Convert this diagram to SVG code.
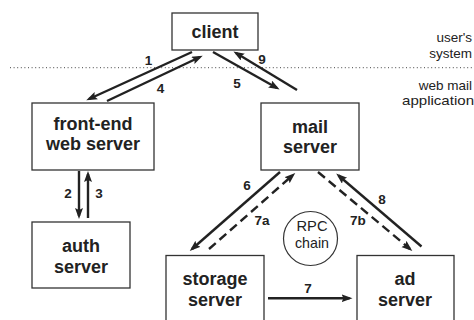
<svg xmlns="http://www.w3.org/2000/svg" width="474" height="320" viewBox="0 0 474 320">
<style>
.box{fill:#fff;stroke:#333;stroke-width:1.3}
.nt{font-family:"Liberation Sans",Arial,sans-serif;font-weight:bold;font-size:18px;fill:#222;text-anchor:middle}
.lb{font-family:"Liberation Sans",Arial,sans-serif;font-weight:bold;font-size:13.5px;fill:#222;text-anchor:middle}
.rt{font-family:"Liberation Sans",Arial,sans-serif;font-size:13.5px;fill:#222;text-anchor:end}
.rp{font-family:"Liberation Sans",Arial,sans-serif;font-size:15px;fill:#222;text-anchor:middle}
.ar{stroke:#222;stroke-width:2.4;fill:none;marker-end:url(#ah)}
.da{stroke-dasharray:9 5}
</style>
<defs>
<marker id="ah" markerUnits="userSpaceOnUse" markerWidth="12" markerHeight="10" refX="8" refY="4" orient="auto">
<path d="M0,0 L11,4 L0,8 L2,4 z" fill="#222"/>
</marker>
</defs>
<line x1="10" y1="67.7" x2="474" y2="67.7" stroke="#444" stroke-width="1" stroke-dasharray="1 2.6"/>
<text class="rt" x="472" y="42">user's</text>
<text class="rt" x="472" y="57.5">system</text>
<text class="rt" x="472" y="89.5">web mail</text>
<text class="rt" x="474" y="105" textLength="72" lengthAdjust="spacingAndGlyphs">application</text>
<g id="client"><rect class="box" x="172" y="13" width="86" height="37"/><text class="nt" x="215" y="38">client</text></g>
<g id="frontend"><rect class="box" x="32" y="103" width="122" height="67"/><text class="nt" x="93" y="130">front-end</text><text class="nt" x="93" y="150">web server</text></g>
<g id="mail"><rect class="box" x="261" y="103" width="98" height="67"/><text class="nt" x="310" y="133">mail</text><text class="nt" x="310" y="153">server</text></g>
<g id="auth"><rect class="box" x="32" y="222" width="98" height="66"/><text class="nt" x="81" y="252">auth</text><text class="nt" x="81" y="273">server</text></g>
<g id="storage"><rect class="box" x="166" y="255.5" width="98" height="80"/><text class="nt" x="215" y="285">storage</text><text class="nt" x="215" y="306">server</text></g>
<g id="ad"><rect class="box" x="357" y="255.5" width="97" height="80"/><text class="nt" x="405" y="285">ad</text><text class="nt" x="405" y="306">server</text></g>
<g id="rpc"><circle cx="310.5" cy="238.5" r="27" fill="none" stroke="#333" stroke-width="1.2"/>
<text class="rp" x="312" y="231" textLength="31" lengthAdjust="spacingAndGlyphs">RPC</text>
<text class="rp" x="312" y="248" textLength="34" lengthAdjust="spacingAndGlyphs">chain</text></g>
<g id="connectors">
<line class="ar" x1="192" y1="52" x2="89" y2="99"/>
<line class="ar" x1="107" y1="101" x2="200" y2="57"/>
<line class="ar" x1="213" y1="52" x2="277" y2="88"/>
<line class="ar" x1="297" y1="90" x2="236" y2="53"/>
<line class="ar" x1="79" y1="171" x2="79" y2="216"/>
<line class="ar" x1="88" y1="218" x2="88" y2="174"/>
<line class="ar" x1="280" y1="172" x2="192" y2="249"/>
<line class="ar da" x1="209" y1="249" x2="293" y2="175"/>
<line class="ar" x1="421.5" y1="246.5" x2="338.5" y2="175.5"/>
<line class="ar da" x1="318" y1="172" x2="410" y2="249"/>
<line class="ar" x1="268" y1="298.3" x2="349.5" y2="298.3"/>
</g>
<g id="labels">
<text class="lb" x="148.5" y="65">1</text>
<text class="lb" x="160.5" y="93">4</text>
<text class="lb" x="237" y="88">5</text>
<text class="lb" x="262" y="64">9</text>
<text class="lb" x="68" y="198">2</text>
<text class="lb" x="99" y="198">3</text>
<text class="lb" x="247" y="190">6</text>
<text class="lb" x="262" y="225">7a</text>
<text class="lb" x="358" y="225">7b</text>
<text class="lb" x="382" y="204">8</text>
<text class="lb" x="308" y="293">7</text>
</g>
</svg>
